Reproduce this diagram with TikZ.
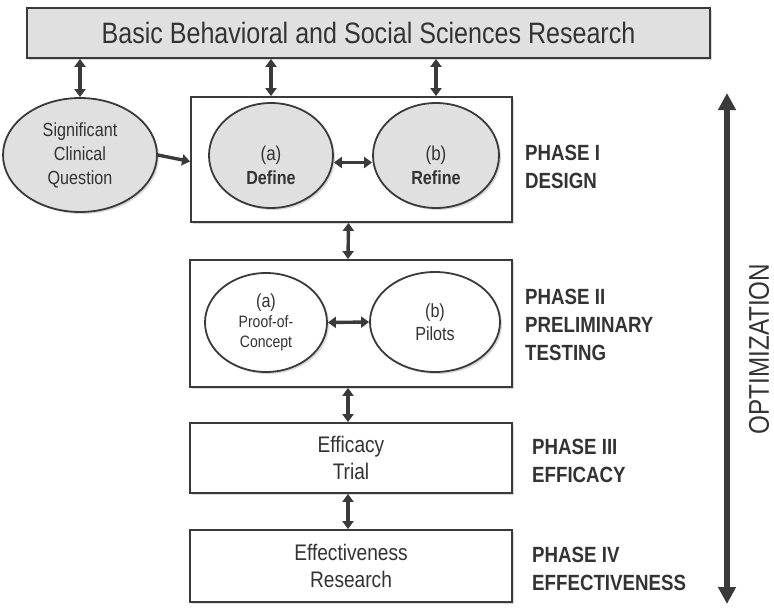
\documentclass[tikz,border=0pt]{standalone}
\usepackage{fontspec}
\setmainfont[FakeStretch=0.85]{Liberation Sans}
\usepackage{tikz}
\usetikzlibrary{arrows.meta,shadows,shapes.geometric}
\definecolor{linegray}{HTML}{3A3A3A}
\definecolor{fillgray}{HTML}{E0E0E0}
\definecolor{textgray}{HTML}{333333}

\begin{document}
\begin{tikzpicture}[x=1pt,y=-1pt,
  box/.style={draw=linegray,line width=1.8pt,fill=white,text=textgray,align=center,
    drop shadow={opacity=0.3,shadow xshift=2pt,shadow yshift=-2pt}},
  oval/.style={box,ellipse,inner sep=0pt},
  phase/.style={anchor=north west,inner sep=0pt,text=textgray,align=left,
    font=\bfseries\fontsize{22}{28}\selectfont},
  dbl/.style={draw=linegray,line width=3.4pt,{Triangle[length=8pt,width=11pt]}-{Triangle[length=8pt,width=11pt]}},
  one/.style={draw=linegray,line width=3.4pt,-{Triangle[length=8pt,width=11pt]}}]
\useasboundingbox (0,0) rectangle (774,610);

%% top box
\node[box,fill=fillgray,minimum width=683pt,minimum height=50pt,
  font=\fontsize{29.5}{30}\selectfont] (basic) at (368.5,33) {Basic Behavioral and Social Sciences Research};

%% phase boxes
\node[box,minimum width=321pt,minimum height=125pt] (p1) at (351.5,159.5) {};
\node[box,minimum width=322pt,minimum height=127pt] (p2) at (351,323.5) {};
\node[box,minimum width=322pt,minimum height=70pt,font=\fontsize{22.5}{27}\selectfont] (p3) at (351,458) {Efficacy\\Trial};
\node[box,minimum width=322pt,minimum height=72pt,font=\fontsize{22.5}{27}\selectfont] (p4) at (351,566) {Effectiveness\\Research};

%% ellipses
\node[oval,fill=fillgray,minimum width=154pt,minimum height=114pt,
  font=\fontsize{19}{24}\selectfont] (scq) at (80,155) {Significant\\Clinical\\Question};
\node[oval,fill=fillgray,minimum width=124pt,minimum height=105pt,
  font=\fontsize{20}{24}\selectfont] (define) at (271,155.5) {\rule{0pt}{34pt}(a)\\{\bfseries\fontsize{19}{24}\selectfont Define}};
\node[oval,fill=fillgray,minimum width=126pt,minimum height=105pt,
  font=\fontsize{20}{24}\selectfont] (refine) at (436,155.5) {\rule{0pt}{34pt}(b)\\{\bfseries\fontsize{19}{24}\selectfont Refine}};
\node[oval,minimum width=122pt,minimum height=99pt,
  font=\fontsize{16.5}{20}\selectfont] (proof) at (266,322.5) {\fontsize{19}{20}\selectfont(a)\\Proof-of-\\Concept};
\node[oval,minimum width=130pt,minimum height=100pt,
  font=\fontsize{19}{23}\selectfont] (pilots) at (435,322) {(b)\\Pilots};

%% arrows
\draw[dbl] (basic.south -| scq) -- (scq.north);
\draw[dbl] (basic.south -| define) -- (p1.north -| define);
\draw[dbl] (basic.south -| refine) -- (p1.north -| refine);
\draw[one] (scq.east) -- ([yshift=-2pt]p1.west);
\draw[dbl] ([yshift=-7pt]define.east) -- ([yshift=-7pt]refine.west);
\draw[dbl] (proof.east) -- (pilots.west);
\draw[dbl] ([xshift=-3pt]p1.south) -- ([xshift=-3pt]p2.north);
\draw[dbl] ([xshift=-3pt]p2.south) -- ([xshift=-3pt]p3.north);
\draw[dbl] ([xshift=-3pt]p3.south) -- ([xshift=-3pt]p4.north);

%% phase labels
\node[phase] (l1) at (525,145) {PHASE I\\DESIGN};
\node[phase] (l2) at (525,289) {PHASE II\\PRELIMINARY\\TESTING};
\node[phase] (l3) at (532,439) {PHASE III\\EFFICACY};
\node[phase] (l4) at (532,547) {PHASE IV\\EFFECTIVENESS};

%% optimization
\coordinate (optTop) at (727,93);
\coordinate (optBot) at (727,604);
\draw[draw=linegray,line width=5.5pt,{Triangle[length=17pt,width=17pt]}-{Triangle[length=17pt,width=17pt]}] (optTop) -- (optBot);
\node[rotate=90,inner sep=0pt,text=textgray,font=\fontsize{28.5}{30}\selectfont] (opt) at (759,349) {OPTIMIZATION};

\end{tikzpicture}
\end{document}
